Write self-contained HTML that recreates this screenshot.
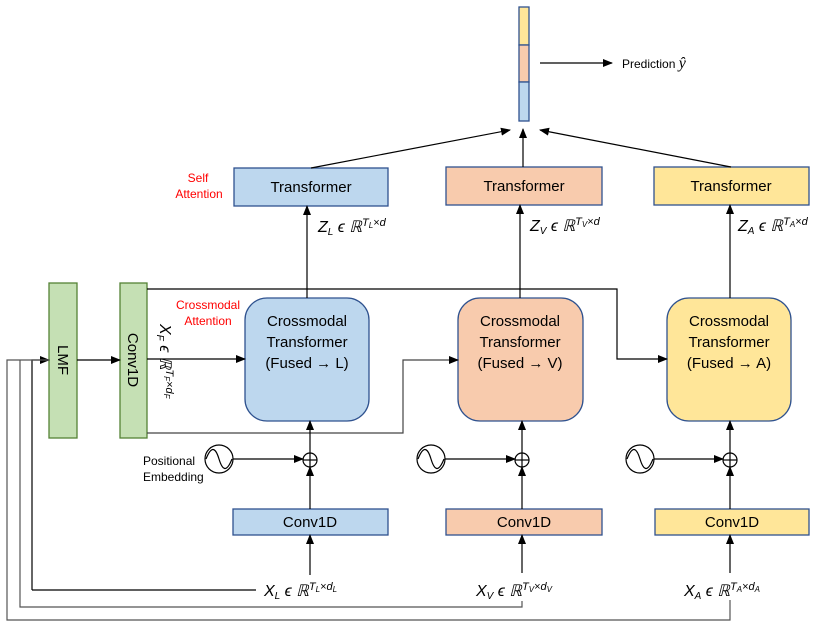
<!DOCTYPE html>
<html><head><meta charset="utf-8"><style>
body{margin:0;background:#fff}
svg{display:block}
text{font-family:"Liberation Sans",sans-serif}
.m{font-family:"Liberation Serif",serif;font-style:italic;font-size:16px}
</style></head><body>
<svg width="824" height="627" viewBox="0 0 824 627" xmlns="http://www.w3.org/2000/svg">
<defs><marker id="a" markerWidth="10" markerHeight="8" refX="9" refY="4" orient="auto" markerUnits="userSpaceOnUse"><path d="M0,0 L10,4 L0,8 z" fill="#000"/></marker></defs>
<g stroke="#2f528f" stroke-width="1.3">
<rect x="519" y="7" width="10" height="38" fill="#ffe699"/>
<rect x="519" y="45" width="10" height="37" fill="#f8cbad"/>
<rect x="519" y="82" width="10" height="39" fill="#bdd7ee"/>
<rect x="234" y="168" width="154" height="38" fill="#bdd7ee"/>
<rect x="446" y="167" width="156" height="38" fill="#f8cbad"/>
<rect x="654" y="167" width="155" height="38" fill="#ffe699"/>
<rect x="245" y="298" width="124" height="123" rx="22" fill="#bdd7ee"/>
<rect x="458" y="298" width="125" height="123" rx="22" fill="#f8cbad"/>
<rect x="667" y="298" width="124" height="123" rx="22" fill="#ffe699"/>
<rect x="233" y="509" width="155" height="26" fill="#bdd7ee"/>
<rect x="446" y="509" width="156" height="26" fill="#f8cbad"/>
<rect x="655" y="509" width="154" height="26" fill="#ffe699"/>
</g>
<g stroke="#548235" stroke-width="1.3" fill="#c5e0b4">
<rect x="49" y="283" width="28" height="155"/>
<rect x="120" y="283" width="27" height="155"/>
</g>
<g stroke="#000" stroke-width="1.2" fill="none">
<line x1="540" y1="63" x2="612" y2="63" marker-end="url(#a)"/>
<line x1="311" y1="168" x2="510" y2="130" marker-end="url(#a)"/>
<line x1="523" y1="167" x2="523" y2="129" marker-end="url(#a)"/>
<line x1="731" y1="167" x2="540" y2="130" marker-end="url(#a)"/>
<line x1="307" y1="298" x2="307" y2="206" marker-end="url(#a)"/>
<line x1="520" y1="298" x2="520" y2="205" marker-end="url(#a)"/>
<line x1="730" y1="298" x2="730" y2="205" marker-end="url(#a)"/>
<polyline points="147,289 617,289 617,359 667,359" marker-end="url(#a)"/>
<polyline points="147,433 403,433 403,360 458,360" stroke="#444" marker-end="url(#a)"/>
<line x1="147" y1="359" x2="245" y2="359" marker-end="url(#a)"/>
<line x1="77" y1="360" x2="120" y2="360" marker-end="url(#a)"/>
<polyline points="32,590 256,590"/>
<polyline points="32,590 32,360 49,360" marker-end="url(#a)"/>
<polyline points="522,601 522,607 20,607 20,360" stroke="#555"/>
<polyline points="730,600 730,620 7,620 7,360 49,360" stroke="#555"/>
<line x1="310" y1="575" x2="310" y2="535" marker-end="url(#a)"/>
<line x1="310" y1="509" x2="310" y2="467" marker-end="url(#a)"/>
<line x1="310" y1="453" x2="310" y2="421" marker-end="url(#a)"/>
<line x1="233" y1="459" x2="303" y2="459" marker-end="url(#a)"/>
<circle cx="310" cy="460" r="7"/><line x1="303" y1="460" x2="317" y2="460"/><line x1="310" y1="453" x2="310" y2="467"/>
<circle cx="219" cy="459" r="14"/><path d="M206,459 C212,444 216,449 219,459 C222,469 226,474 232,459"/>
<line x1="522" y1="573" x2="522" y2="535" marker-end="url(#a)"/>
<line x1="522" y1="509" x2="522" y2="467" marker-end="url(#a)"/>
<line x1="522" y1="453" x2="522" y2="421" marker-end="url(#a)"/>
<line x1="445" y1="459" x2="515" y2="459" marker-end="url(#a)"/>
<circle cx="522" cy="460" r="7"/><line x1="515" y1="460" x2="529" y2="460"/><line x1="522" y1="453" x2="522" y2="467"/>
<circle cx="431" cy="459" r="14"/><path d="M418,459 C424,444 428,449 431,459 C434,469 438,474 444,459"/>
<line x1="730" y1="573" x2="730" y2="535" marker-end="url(#a)"/>
<line x1="730" y1="509" x2="730" y2="467" marker-end="url(#a)"/>
<line x1="730" y1="453" x2="730" y2="421" marker-end="url(#a)"/>
<line x1="654" y1="459" x2="723" y2="459" marker-end="url(#a)"/>
<circle cx="730" cy="460" r="7"/><line x1="723" y1="460" x2="737" y2="460"/><line x1="730" y1="453" x2="730" y2="467"/>
<circle cx="640" cy="459" r="14"/><path d="M627,459 C633,444 637,449 640,459 C643,469 647,474 653,459"/>
</g>
<g font-size="15" text-anchor="middle" fill="#000">
<text x="311" y="192">Transformer</text>
<text x="524" y="191">Transformer</text>
<text x="731" y="191">Transformer</text>
<text x="307" y="326">Crossmodal</text><text x="307" y="347">Transformer</text><text x="307" y="368">(Fused <tspan font-weight="bold">→</tspan> L)</text>
<text x="520" y="326">Crossmodal</text><text x="520" y="347">Transformer</text><text x="520" y="368">(Fused <tspan font-weight="bold">→</tspan> V)</text>
<text x="729" y="326">Crossmodal</text><text x="729" y="347">Transformer</text><text x="729" y="368">(Fused <tspan font-weight="bold">→</tspan> A)</text>
<text x="310" y="527">Conv1D</text>
<text x="524" y="527">Conv1D</text>
<text x="732" y="527">Conv1D</text>
<text transform="translate(58,360) rotate(90)" x="0" y="0">LMF</text>
<text transform="translate(128,360) rotate(90)" x="0" y="0">Conv1D</text>
</g>
<g font-size="12" fill="#ff0000" text-anchor="middle">
<text x="198" y="182">Self</text><text x="199" y="198">Attention</text>
<text x="208" y="309">Crossmodal</text><text x="208" y="325">Attention</text>
</g>
<text x="622" y="68" font-size="12">Prediction <tspan class="m" font-size="14">ŷ</tspan></text>
<text x="143" y="465" font-size="12">Positional</text>
<text x="143" y="481" font-size="12">Embedding</text>
<g class="m">
<text x="318" y="232">Z<tspan font-size="10" dy="3">L</tspan><tspan dy="-3"> ϵ ℝ</tspan><tspan font-size="11" dy="-6">T</tspan><tspan font-size="8" dy="2">L</tspan><tspan font-size="11" dy="-2">×d</tspan></text>
<text x="530" y="231">Z<tspan font-size="10" dy="3">V</tspan><tspan dy="-3"> ϵ ℝ</tspan><tspan font-size="11" dy="-6">T</tspan><tspan font-size="8" dy="2">V</tspan><tspan font-size="11" dy="-2">×d</tspan></text>
<text x="738" y="231">Z<tspan font-size="10" dy="3">A</tspan><tspan dy="-3"> ϵ ℝ</tspan><tspan font-size="11" dy="-6">T</tspan><tspan font-size="8" dy="2">A</tspan><tspan font-size="11" dy="-2">×d</tspan></text>
<text x="264" y="596">X<tspan font-size="10" dy="3">L</tspan><tspan dy="-3"> ϵ ℝ</tspan><tspan font-size="11" dy="-6">T</tspan><tspan font-size="8" dy="2">L</tspan><tspan font-size="11" dy="-2">×d</tspan><tspan font-size="8" dy="2">L</tspan></text>
<text x="476" y="596">X<tspan font-size="10" dy="3">V</tspan><tspan dy="-3"> ϵ ℝ</tspan><tspan font-size="11" dy="-6">T</tspan><tspan font-size="8" dy="2">V</tspan><tspan font-size="11" dy="-2">×d</tspan><tspan font-size="8" dy="2">V</tspan></text>
<text x="684" y="596">X<tspan font-size="10" dy="3">A</tspan><tspan dy="-3"> ϵ ℝ</tspan><tspan font-size="11" dy="-6">T</tspan><tspan font-size="8" dy="2">A</tspan><tspan font-size="11" dy="-2">×d</tspan><tspan font-size="8" dy="2">A</tspan></text>
<text transform="translate(160,324) rotate(90)">X<tspan font-size="10" dy="3">F</tspan><tspan dy="-3"> ϵ ℝ</tspan><tspan font-size="11" dy="-6">T</tspan><tspan font-size="8" dy="2">F</tspan><tspan font-size="11" dy="-2">×d</tspan><tspan font-size="8" dy="2">F</tspan></text>
</g>
</svg>
</body></html>
